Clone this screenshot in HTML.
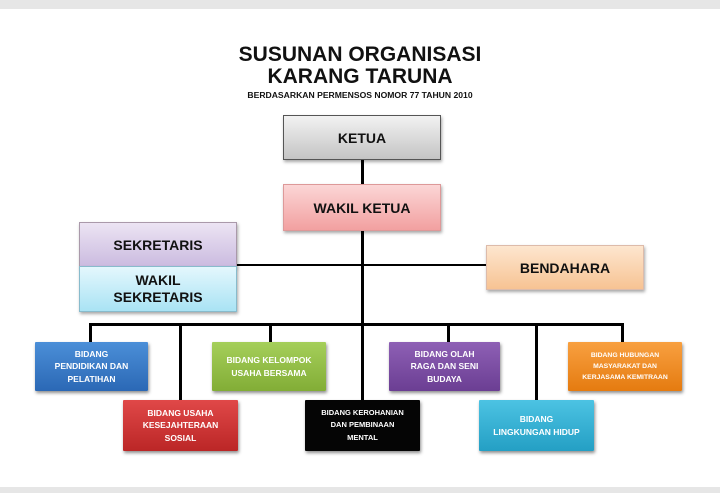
<!DOCTYPE html>
<html><head><meta charset="utf-8"><style>
body{margin:0;width:720px;height:493px;background:#fff;position:relative;overflow:hidden;font-family:"Liberation Sans",Arial,sans-serif}
.a{position:absolute}
.b{position:absolute;display:flex;align-items:center;justify-content:center;text-align:center;font-weight:bold;box-sizing:border-box}
.top{border:1px solid #555;color:#111;font-size:14px;box-shadow:1px 2px 3px rgba(0,0,0,.35)}
.bd{color:#fff;font-size:8.5px;line-height:12.5px;box-shadow:1px 2px 3px rgba(0,0,0,.45);border-radius:1px}
.l{position:absolute;background:#000}
</style></head><body>
<div class="a" style="left:0;top:0;width:720px;height:9px;background:#e6e6e6"></div>
<div class="a" style="left:0;top:487px;width:720px;height:6px;background:#e6e6e6"></div>
<div class="a" style="left:0;top:44px;width:720px;text-align:center;font-weight:bold;font-size:21px;line-height:22px;color:#111">SUSUNAN ORGANISASI<br>KARANG TARUNA</div>
<div class="a" style="left:0;top:90px;width:720px;text-align:center;font-weight:bold;font-size:8.6px;color:#111">BERDASARKAN PERMENSOS NOMOR 77 TAHUN 2010</div>

<div class="l" style="left:361px;top:160px;width:3px;height:166px"></div>
<div class="l" style="left:237px;top:264px;width:250px;height:2px"></div>
<div class="l" style="left:89px;top:323px;width:535px;height:3px"></div>
<div class="l" style="left:89px;top:323px;width:3px;height:20px"></div>
<div class="l" style="left:179px;top:323px;width:3px;height:78px"></div>
<div class="l" style="left:269px;top:323px;width:3px;height:20px"></div>
<div class="l" style="left:361px;top:323px;width:3px;height:78px"></div>
<div class="l" style="left:447px;top:323px;width:3px;height:20px"></div>
<div class="l" style="left:535px;top:323px;width:3px;height:78px"></div>
<div class="l" style="left:621px;top:323px;width:3px;height:20px"></div>

<div class="b top" style="left:283px;top:115px;width:158px;height:45px;background:linear-gradient(#f2f2f2,#c4c4c4)">KETUA</div>
<div class="b top" style="left:283px;top:184px;width:158px;height:47px;background:linear-gradient(#fbd6d6,#f2a0a0);border-color:#d99">WAKIL KETUA</div>
<div class="b top" style="left:79px;top:222px;width:158px;height:45px;background:linear-gradient(#ece4f3,#cbbbe0);border-color:#a9a">SEKRETARIS</div>
<div class="b top" style="left:79px;top:266px;width:158px;height:46px;background:linear-gradient(#e4f7fd,#a9e3f4);border-color:#8bc;line-height:17px">WAKIL<br>SEKRETARIS</div>
<div class="b top" style="left:486px;top:245px;width:158px;height:45px;background:linear-gradient(#fde6cf,#f7c393);border-color:#dba">BENDAHARA</div>

<div class="b bd" style="left:35px;top:342px;width:113px;height:49px;background:linear-gradient(#4b8fd8,#2b68b5)">BIDANG<br>PENDIDIKAN DAN<br>PELATIHAN</div>
<div class="b bd" style="left:212px;top:342px;width:114px;height:49px;background:linear-gradient(#a5cf5a,#82ad36)">BIDANG KELOMPOK<br>USAHA BERSAMA</div>
<div class="b bd" style="left:389px;top:342px;width:111px;height:49px;background:linear-gradient(#8e60b5,#6b3e93)">BIDANG OLAH<br>RAGA DAN SENI<br>BUDAYA</div>
<div class="b bd" style="left:568px;top:342px;width:114px;height:49px;background:linear-gradient(#f8a040,#e57b10);font-size:6.8px;line-height:11px">BIDANG HUBUNGAN<br>MASYARAKAT DAN<br>KERJASAMA KEMITRAAN</div>
<div class="b bd" style="left:123px;top:400px;width:115px;height:51px;background:linear-gradient(#e04848,#bb2626)">BIDANG USAHA<br>KESEJAHTERAAN<br>SOSIAL</div>
<div class="b bd" style="left:305px;top:400px;width:115px;height:51px;background:#050505;font-size:7.5px">BIDANG KEROHANIAN<br>DAN PEMBINAAN<br>MENTAL</div>
<div class="b bd" style="left:479px;top:400px;width:115px;height:51px;background:linear-gradient(#4cc3e3,#249fc4)">BIDANG<br>LINGKUNGAN HIDUP</div>
</body></html>
